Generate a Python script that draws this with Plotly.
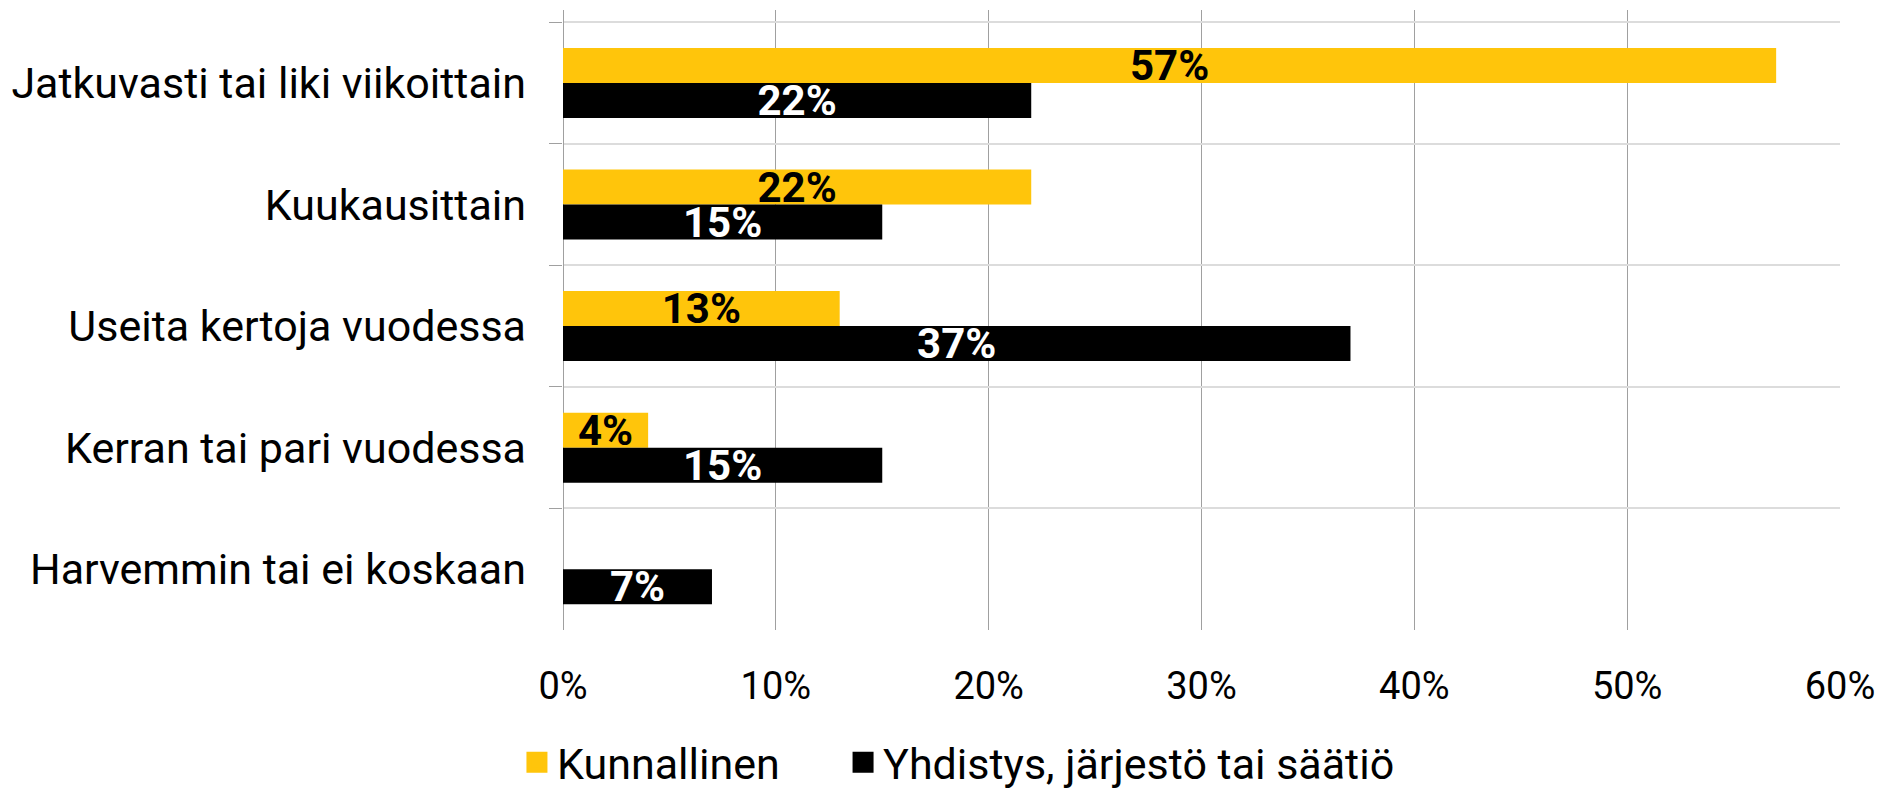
import plotly.graph_objects as go

categories = ["Jatkuvasti tai liki viikoittain", "Kuukausittain", "Useita kertoja vuodessa",
              "Kerran tai pari vuodessa", "Harvemmin tai ei koskaan"]
series_names = ["Kunnallinen", "Yhdistys, järjestö tai säätiö"]
kunnallinen = [0.57, 0.22, 0.13, 0.04, None]
yhdistys = [0.22, 0.15, 0.37, 0.15, 0.07]
x_ticks = [0, 0.1, 0.2, 0.3, 0.4, 0.5, 0.6]
colors = ["#FFC50B", "#000000"]
label_colors = ["#000000", "#FFFFFF"]

FONT = "Roboto"

def labels(vals):
    return [("" if v is None else f"{round(v*100)}%") for v in vals]

fig = go.Figure()
for name, vals, col, lcol in zip(series_names, [kunnallinen, yhdistys], colors, label_colors):
    fig.add_trace(go.Bar(
        y=categories, x=vals, name=name, orientation="h", showlegend=False,
        marker=dict(color=col, line=dict(width=0)),
        text=labels(vals), textposition="inside", insidetextanchor="middle",
        textfont=dict(family=FONT, size=42, color=lcol, weight="bold"),
        cliponaxis=False,
    ))
# legend entries (square swatches), one legend box each
for name, col, lg in zip(series_names, colors, ["legend", "legend2"]):
    fig.add_trace(go.Scatter(
        x=[None], y=[None], mode="markers", name=name, showlegend=True, legend=lg,
        marker=dict(symbol="square", size=16, color=col, line=dict(width=5, color=col)),
    ))

legend_common = dict(orientation="h", xanchor="left", y=0.039, yanchor="middle",
                     yref="container", xref="container", font=dict(family=FONT, size=43),
                     itemwidth=30, bgcolor="rgba(0,0,0,0)")

fig.update_layout(
    width=1885, height=785,
    barmode="group", bargap=0.424, bargroupgap=0,
    plot_bgcolor="white", paper_bgcolor="white",
    margin=dict(l=555, r=53, t=2, b=163),
    font=dict(family=FONT, size=38, color="#000000"),
    uniformtext=dict(minsize=42, mode="show"),
    showlegend=True,
    legend=dict(x=0.270, **legend_common),
    legend2=dict(x=0.443, **legend_common),
    xaxis=dict(range=[0, 0.6], tickvals=x_ticks, tickformat=".0%",
               showgrid=True, gridcolor="#A0A0A0", gridwidth=1,
               zeroline=True, zerolinecolor="#A0A0A0", zerolinewidth=1,
               showline=False, ticks="", ticklabelstandoff=30,
               tickfont=dict(family=FONT, size=38)),
    yaxis=dict(type="category", range=[4.5, -0.6], tickson="boundaries",
               showgrid=True, gridcolor="#DCDCDC", gridwidth=2,
               ticks="outside", ticklen=13, tickcolor="#A0A0A0", tickwidth=1,
               showline=False, ticklabelstandoff=36,
               tickfont=dict(family=FONT, size=43)),
)

fig.write_html("out.html")
